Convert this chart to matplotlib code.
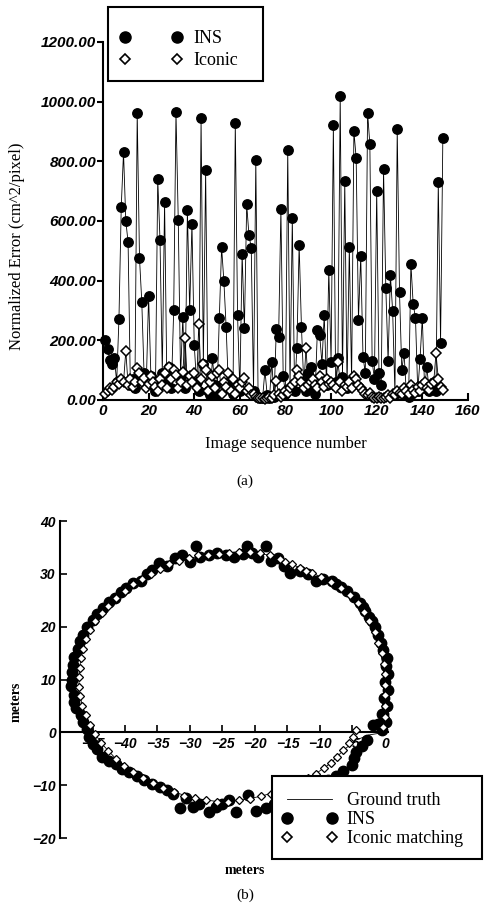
import matplotlib
matplotlib.use('Agg')
import matplotlib.pyplot as plt
from matplotlib.lines import Line2D
from matplotlib.patches import Rectangle
from matplotlib.font_manager import FontProperties
import numpy as np

# (a) normalized error per image
ins_err = [201, 170, 135, 122, 140, 60, 273, 647, 830, 600,
           529, 50, 70, 40, 963, 476, 330, 90, 60, 349,
           80, 50, 30, 742, 535, 90, 664, 60, 110, 40,
           302, 965, 602, 80, 277, 40, 636, 300, 591, 185,
           60, 30, 946, 120, 771, 30, 15, 139, 50, 20,
           276, 512, 398, 243, 40, 70, 20, 928, 285, 30,
           490, 240, 656, 552, 510, 30, 805, 10, 5, 8,
           100, 15, 5, 128, 10, 238, 212, 641, 80, 20,
           838, 40, 609, 30, 173, 521, 246, 60, 30, 90,
           111, 40, 20, 235, 218, 122, 285, 50, 437, 128,
           923, 60, 139, 1019, 78, 735, 40, 512, 60, 901,
           811, 269, 482, 145, 90, 963, 858, 130, 70, 701,
           90, 50, 774, 375, 130, 420, 297, 20, 909, 361,
           100, 159, 20, 10, 456, 321, 276, 30, 137, 276,
           40, 110, 30, 40, 60, 30, 729, 190, 879]
iconic_err = [20, 30, 40, 35, 45, 60, 55, 70, 60, 165,
              50, 70, 45, 60, 107, 90, 60, 75, 40, 55,
              80, 60, 45, 30, 70, 50, 90, 40, 110, 70,
              100, 85, 40, 60, 95, 207, 50, 80, 60, 90,
              40, 255, 70, 120, 100, 30, 60, 80, 40, 90,
              100, 20, 60, 45, 90, 30, 70, 20, 50, 40,
              60, 74, 30, 40, 15, 20, 10, 5, 5, 8,
              3, 5, 10, 8, 15, 64, 20, 10, 15, 30,
              25, 40, 50, 60, 100, 80, 60, 40, 175, 50,
              60, 70, 50, 40, 80, 60, 45, 70, 55, 60,
              50, 40, 128, 60, 30, 50, 45, 60, 40, 80,
              70, 50, 40, 30, 20, 15, 25, 10, 8, 5,
              10, 8, 5, 10, 15, 5, 20, 15, 30, 25,
              20, 40, 30, 20, 50, 35, 25, 45, 30, 50,
              60, 40, 35, 55, 60, 157, 70, 45, 33]
seq = np.arange(1, len(ins_err) + 1)
err_ticks = [0, 200, 400, 600, 800, 1000, 1200]
seq_ticks = [0, 20, 40, 60, 80, 100, 120, 140, 160]

# (b) trajectories in meters
truth_x = [0.0, 0.1, 0.0, -0.2, -0.8, -1.8, -3.4, -5.4, -8.3, -11.2, -14.3, -17.7,
           -20.8, -24.0, -27.2, -30.2, -33.2, -36.0, -38.7, -41.4, -43.6, -45.4, -46.5,
           -47.0, -47.1, -46.6, -45.4, -43.7, -41.4, -38.7, -35.7, -32.5, -29.2, -25.8,
           -22.4, -19.1, -16.0, -13.2, -10.6, -8.3, -6.4, -4.5, -2.5, 0.0]
truth_y = [0.0, 4.0, 8.0, 12.0, 16.0, 19.6, 22.8, 26.0, 28.5, 30.2, 31.8, 33.5,
           34.2, 34.0, 33.5, 33.0, 31.8, 30.0, 28.0, 25.4, 22.6, 19.4, 15.8,
           12.2, 8.6, 5.0, 1.4, -2.0, -5.0, -7.5, -9.6, -11.3, -12.5, -13.1,
           -12.9, -12.1, -11.0, -9.5, -7.8, -5.8, -3.4, -1.5, -0.5, 0.0]

ins_x = [-0.5, 0.2, -0.3, 0.3, -0.2, 0.4, 0.0, 0.5, 0.2, 0.3, -0.3, -0.6, -1.0, -1.6,
         -2.0, -2.4, -3.0, -3.4, -3.8, -4.8, -5.8, -6.8, -7.5, -8.2, -9.5, -10.6,
         -11.8, -13.0, -14.6, -15.5, -16.5, -17.6, -18.3, -19.5, -20.5, -21.3, -21.8,
         -23.2, -24.5, -25.8, -27.0, -28.4, -29.1, -30.0, -31.2, -32.3, -33.5, -34.7,
         -35.8, -36.6, -37.6, -38.8, -39.8, -40.6, -41.6, -42.5, -43.4, -44.3, -45.0,
         -45.8, -46.4, -47.0, -47.3, -47.8, -48.0, -48.2, -48.1, -48.3, -47.8, -47.8,
         -47.5, -46.8, -46.5, -45.9, -45.6, -44.9, -44.3, -43.5, -42.5, -41.4, -40.4,
         -39.4, -38.2, -37.0, -35.8, -34.6, -33.6, -32.6, -31.6, -30.6, -29.6, -28.6,
         -27.0, -26.0, -25.0, -24.0, -22.9, -21.1, -19.8, -18.3, -17.0, -15.4, -14.3,
         -13.4, -12.2, -11.1, -9.9, -8.7, -7.5, -6.4, -5.1, -4.8, -4.4, -3.6, -2.8,
         -1.8, -1.0, -0.5]
ins_y = [0.5, 2.0, 3.5, 5.0, 6.5, 8.0, 9.5, 11.0, 12.5, 14.0, 15.5, 17.0, 18.5, 20.0,
         21.0, 21.8, 23.0, 23.8, 24.5, 25.6, 26.8, 27.6, 28.0, 28.6, 29.0, 28.6,
         30.0, 30.6, 30.2, 31.5, 33.0, 32.4, 35.2, 33.2, 34.0, 35.3, 33.8,
         33.2, 33.6, 34.0, 33.5, 33.2, 35.3, 32.2, 33.5, 33.0, 31.4, 32.0,
         30.8, 30.0, 28.6, 28.2, 27.4, 26.6, 25.4, 24.6, 23.6, 22.4, 21.2,
         20.0, 18.4, 17.2, 15.8, 14.2, 12.8, 11.4, 10.0, 8.8, 7.0, 5.8,
         4.6, 3.2, 2.0, 0.6, -0.8, -2.2, -3.2, -4.6, -5.4, -6.0, -6.9,
         -7.5, -8.2, -9.0, -9.8, -10.4, -11.0, -11.6, -14.4, -12.4, -14.1, -13.6,
         -15.0, -14.2, -13.6, -12.9, -15.0, -11.9, -14.8, -14.4, -13.6, -12.9, -12.6,
         -11.6, -10.6, -10.0, -9.6, -9.1, -8.2, -7.4, -6.2, -4.8, -3.7, -2.6, -1.5,
         1.3, 1.6, 3.5]

iconic_x = [-0.3, 0.0, 0.0, 0.0, 0.0, 0.0, -0.2, -0.5, -1.0, -1.6, -2.4, -3.2, -4.2,
            -5.4, -6.8, -8.3, -9.9, -11.2, -12.1, -13.1, -14.3, -15.4, -16.2, -17.7,
            -19.2, -20.8, -22.4, -24.0, -25.6, -27.2, -28.7, -30.2, -31.7, -33.2, -34.6,
            -36.0, -37.4, -38.7, -40.0, -41.4, -42.6, -43.6, -44.6, -45.4, -46.0, -46.5,
            -46.8, -47.0, -47.1, -47.1, -46.9, -46.6, -46.0, -45.4, -44.6, -43.7, -42.6,
            -41.4, -40.1, -38.7, -37.2, -35.7, -34.1, -32.5, -30.9, -29.2, -27.5, -25.8,
            -24.1, -22.4, -20.7, -19.1, -17.5, -16.0, -14.6, -13.2, -11.9, -10.6, -9.4,
            -8.3, -7.3, -6.4, -5.6, -4.9, -4.5]
iconic_y = [1.0, 3.0, 5.0, 7.0, 9.0, 11.0, 13.0, 15.0, 17.0, 19.0, 21.0, 22.8, 24.5,
            26.0, 27.3, 28.5, 29.4, 30.2, 30.5, 31.2, 31.8, 32.3, 32.9, 33.5,
            33.9, 34.2, 34.2, 34.0, 33.8, 33.5, 33.5, 33.0, 32.5, 31.8, 31.0,
            30.0, 29.0, 28.0, 26.8, 25.4, 24.0, 22.6, 21.0, 19.4, 17.6, 15.8,
            14.0, 12.2, 10.4, 8.6, 6.8, 5.0, 3.2, 1.4, -0.4, -2.0, -3.6,
            -5.0, -6.3, -7.5, -8.6, -9.6, -10.5, -11.3, -12.0, -12.5, -12.9, -13.1,
            -13.1, -12.9, -12.6, -12.1, -11.6, -11.0, -10.3, -9.5, -8.7, -7.8, -6.8,
            -5.8, -4.6, -3.4, -2.1, -0.8, 0.5]

serif = 'Liberation Serif'
W, H = 484, 909


def fx(px):
    return px / W


def fy(py):
    return 1 - py / H


fig = plt.figure(figsize=(4.84, 9.09), dpi=100)

# ---- (a) ----
ax1 = fig.add_axes([0.2128, 0.5600, 0.754, 0.3938])
ax1.plot(seq, ins_err, color='black', lw=0.6, marker='o', ms=6.8,
         mfc='black', mec='black', zorder=3, clip_on=False)
ax1.plot(seq, iconic_err, color='black', lw=0.6, marker='D', ms=4.6,
         mfc='white', mec='black', mew=1.1, zorder=4, clip_on=False)
ax1.set_xlim(0, 160)
ax1.set_ylim(0, 1200)
for s in ['top', 'right']:
    ax1.spines[s].set_visible(False)
for s in ['left', 'bottom']:
    ax1.spines[s].set_linewidth(1.5)
ax1.set_xticks(seq_ticks)
ax1.set_yticks(err_ticks)
ax1.set_yticklabels([f'{v:.2f}' for v in err_ticks])
ax1.tick_params(axis='x', direction='in', length=5, width=1.5, pad=3)
ax1.tick_params(axis='y', direction='out', length=4, width=1.5, pad=1)
tick_font = FontProperties(family='Liberation Sans', weight='bold', style='italic', size=11)
for lab in ax1.get_xticklabels() + ax1.get_yticklabels():
    lab.set_fontproperties(tick_font)
fig.text(fx(17), fy(246), 'Normalized Error (cm^2/pixel)', family=serif, fontsize=12,
         ha='center', va='center', rotation=90)
ax1.set_xlabel('Image sequence number', family=serif, fontsize=12, labelpad=13)
fig.text(0.506, fy(481), '(a)', family=serif, fontsize=11, ha='center', va='center')

fig.add_artist(Rectangle((fx(108), fy(81)), fx(263) - fx(108), fy(7) - fy(81),
                         transform=fig.transFigure, facecolor='white', edgecolor='black',
                         lw=1.5, zorder=1))
leg1_handles = [Line2D([], [], ls='none', marker='o', ms=8, mfc='black', mec='black'),
                Line2D([], [], ls='none', marker='D', ms=5, mfc='white', mec='black', mew=1.2)]
leg1 = fig.legend(leg1_handles, ['INS', 'Iconic'], loc='upper left',
                  bbox_to_anchor=(fx(119.6), fy(30)), bbox_transform=fig.transFigure,
                  numpoints=2, handlelength=3.49, handletextpad=0.6, borderpad=0,
                  labelspacing=0.3, frameon=False, borderaxespad=0,
                  prop={'family': serif, 'size': 13})

# ---- (b) ----
ax2 = fig.add_axes([0.124, 0.0781, 0.678, 0.3487])
ax2.plot(truth_x, truth_y, color='black', lw=0.6, zorder=2)
ax2.plot(ins_x, ins_y, ls='none', marker='o', ms=7.5, mfc='black', mec='black',
         zorder=3, clip_on=False)
ax2.plot(iconic_x, iconic_y, ls='none', marker='D', ms=3.8, mfc='white', mec='black',
         mew=0.9, zorder=4, clip_on=False)
ax2.set_xlim(-50, 0.5)
ax2.set_ylim(-20, 40)
for s in ['top', 'right']:
    ax2.spines[s].set_visible(False)
ax2.spines['bottom'].set_position(('data', 0))
ax2.spines['left'].set_linewidth(1.5)
ax2.spines['bottom'].set_linewidth(1.5)
ax2.set_xticks([-45, -40, -35, -30, -25, -20, -15, -10, -5, 0])
ax2.set_yticks([-20, -10, 0, 10, 20, 30, 40])
ax2.tick_params(direction='in', length=5, width=1.2, pad=3)
tick_font2 = FontProperties(family='Liberation Sans', weight='bold', style='italic', size=10)
for lab in ax2.get_xticklabels() + ax2.get_yticklabels():
    lab.set_fontproperties(tick_font2)
fig.text(0.506, fy(871), 'meters', family=serif, weight='bold', fontsize=10,
         ha='center', va='center')
fig.text(0.033, fy(702), 'meters', family=serif, weight='bold', fontsize=10,
         ha='center', va='center', rotation=90)
fig.text(0.506, fy(895), '(b)', family=serif, fontsize=11, ha='center', va='center')

fig.add_artist(Rectangle((fx(272), fy(859)), fx(482) - fx(272), fy(776) - fy(859),
                         transform=fig.transFigure, facecolor='white', edgecolor='black',
                         lw=1.5, zorder=1))
leg2_handles = [Line2D([], [], color='black', lw=0.6),
                Line2D([], [], ls='none', marker='o', ms=8, mfc='black', mec='black'),
                Line2D([], [], ls='none', marker='D', ms=5, mfc='white', mec='black', mew=1.2)]
leg2 = fig.legend(leg2_handles, ['Ground truth', 'INS', 'Iconic matching'], loc='upper left',
                  bbox_to_anchor=(fx(281.6), fy(792)), bbox_transform=fig.transFigure,
                  numpoints=2, handlelength=3.1, handletextpad=0.5, borderpad=0,
                  labelspacing=0.12, frameon=False, borderaxespad=0,
                  prop={'family': serif, 'size': 13})

fig.savefig('out.png', dpi=100)
